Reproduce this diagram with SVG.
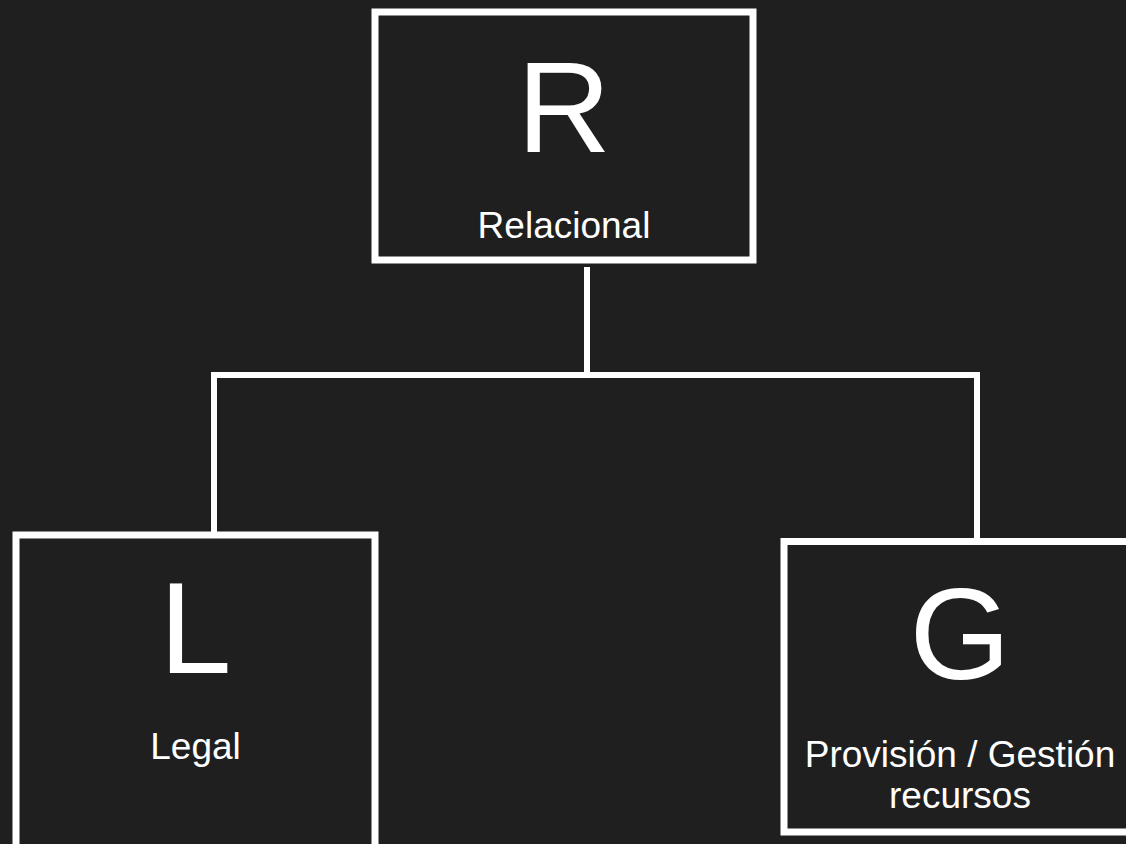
<svg xmlns="http://www.w3.org/2000/svg" width="1126" height="844" viewBox="0 0 1126 844">
<style>
.box{fill:#1f1f1f;stroke:#ffffff;stroke-width:7}
.conn{fill:none;stroke:#ffffff;stroke-width:6;stroke-linecap:square}
.big{font-family:"Liberation Sans",Arial,sans-serif;font-size:130px;fill:#ffffff;text-anchor:middle}
.lbl{font-family:"Liberation Sans",Arial,sans-serif;font-size:37px;fill:#ffffff;text-anchor:middle}
</style>
<rect width="1126" height="844" fill="#1f1f1f"/>
<g id="connectors">
<path class="conn" d="M587 270 V375"/>
<path class="conn" d="M214 375 H977"/>
<path class="conn" d="M214 375 V532"/>
<path class="conn" d="M977 375 V536"/>
</g>
<g id="node-R">
<rect class="box" x="375" y="12" width="378" height="248"/>
<text class="big" x="564" y="152">R</text>
<text class="lbl" x="564" y="238">Relacional</text>
</g>
<g id="node-L">
<rect class="box" x="16" y="535" width="359" height="330"/>
<text class="big" x="195.5" y="673">L</text>
<text class="lbl" x="195.5" y="759">Legal</text>
</g>
<g id="node-G">
<rect class="box" x="784" y="541.5" width="352" height="290.5"/>
<text class="big" x="960" y="679">G</text>
<text class="lbl" x="960" y="767">Provisión / Gestión</text>
<text class="lbl" x="960" y="808">recursos</text>
</g>
</svg>
